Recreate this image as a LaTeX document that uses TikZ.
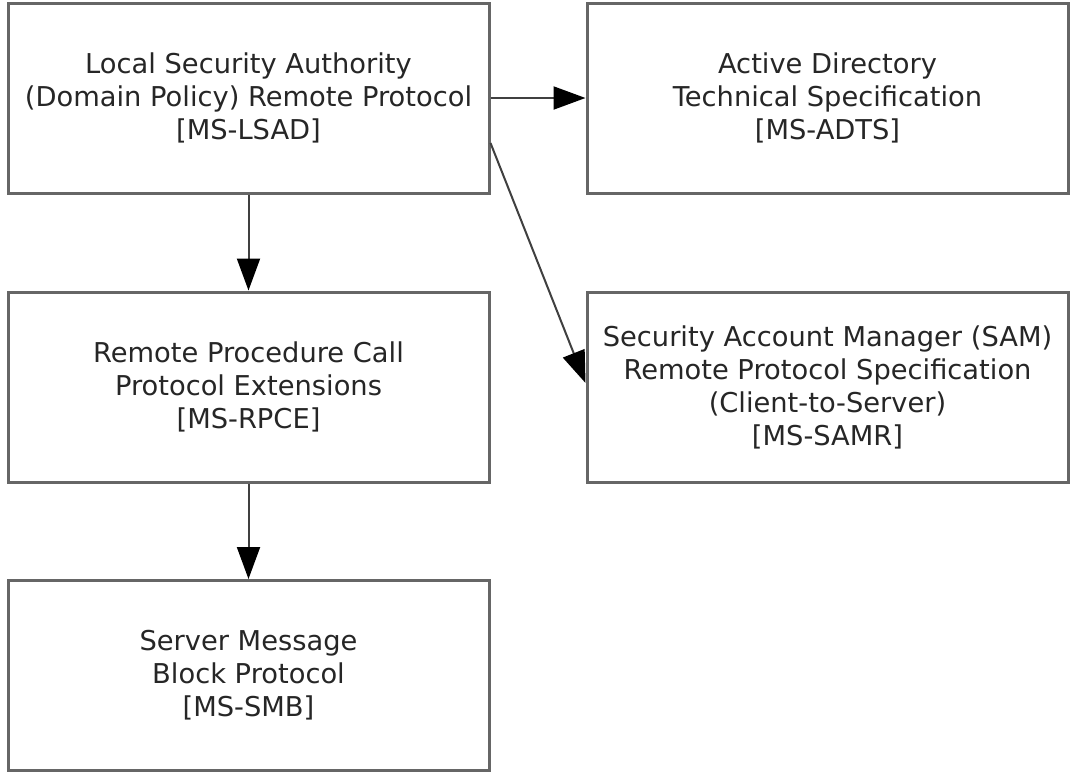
\documentclass[tikz,border=0pt]{standalone}
\usepackage{fontspec}
\setmainfont{DejaVu Sans}
\usetikzlibrary{arrows.meta}
\begin{document}
\begin{tikzpicture}[x=1pt,y=-1pt,
  box/.style={draw=black!60, line width=3pt, minimum width=481pt, minimum height=190pt, inner sep=0pt,
    align=center, font=\fontsize{27.3}{33}\selectfont, text=black!85},
  conn/.style={draw=black!75, line width=2pt, -{Triangle[length=32pt,width=23pt,color=black]}}]
\useasboundingbox (0,0) rectangle (1074,772);
\fill[white] (0,0) rectangle (1074,772);
\node[box] (lsad) at (248.5,98) {Local Security Authority\\(Domain Policy) Remote Protocol\\{}[MS-LSAD]};
\node[box] (adts) at (827.5,98) {Active Directory\\Technical Specification\\{}[MS-ADTS]};
\node[box] (rpce) at (248.5,387) {Remote Procedure Call\\Protocol Extensions\\{}[MS-RPCE]};
\node[box] (samr) at (827.5,387) {Security Account Manager (SAM)\\Remote Protocol Specification\\(Client-to-Server)\\{}[MS-SAMR]};
\node[box] (smb) at (248.5,675.5) {Server Message\\Block Protocol\\{}[MS-SMB]};
\draw[conn] (lsad) -- (adts);
\draw[conn] (lsad) -- (rpce);
\draw[conn] (rpce) -- (smb);
\draw[conn] ([yshift=-45pt]lsad.east) -- ([yshift=4pt]samr.west);
\end{tikzpicture}
\end{document}
